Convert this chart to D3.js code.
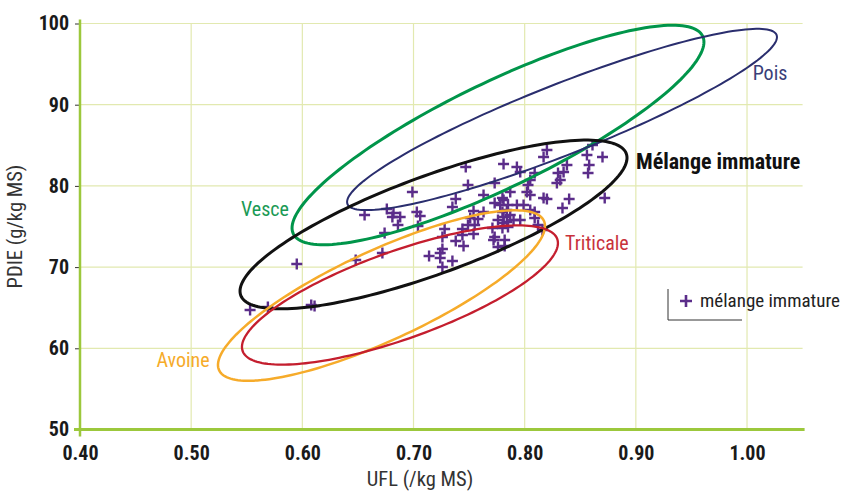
<!DOCTYPE html>
<html><head><meta charset="utf-8">
<script src="https://cdn.jsdelivr.net/npm/d3@7"></script>
<style>
body{margin:0;background:#fff;}
svg{display:block;}
text{font-family:"Liberation Sans Narrow","Roboto Condensed","Roboto",sans-serif;}
</style></head><body>
<svg id="c" width="847" height="491"></svg>
<script>
// ---- data ----
const xTicks = [0.40,0.50,0.60,0.70,0.80,0.90,1.00];
const yTicks = [50,60,70,80,90,100];

const ellipseNames = ["Vesce","Pois","Mélange immature","Avoine","Triticale"];
const ellipseCenterUFL  = [0.776, 0.8336, 0.718, 0.6712, 0.6878];
const ellipseCenterPDIE = [86.27, 88.18, 75.25, 66.50, 66.56];
const ellipseMajorUFL   = [0.1841, 0.1930, 0.1734, 0.1461, 0.1415];
const ellipseMajorPDIE  = [12.18, 10.41, 8.73, 9.20, 6.90];
const ellipseMinorUFL   = [0.02067, 0.0116, 0.01516, 0.01699, 0.01325];
const ellipseMinorPDIE  = [-5.855, -4.033, -5.64, -5.057, -5.09];

const pointsUFL = [0.553,0.569,0.608,0.611,0.595,0.648,0.672,0.674,0.656,0.676,0.699,0.682,0.681,0.688,0.686,0.703,0.706,0.704,0.714,
0.747,0.749,0.773,0.763,0.738,0.735,0.780,0.773,0.754,0.763,0.780,0.751,0.758,0.776,0.749,0.755,0.728,0.744,0.771,0.780,0.726,0.744,0.754,0.773,0.738,0.772,0.776,0.745,0.726,0.724,0.724,0.735,0.726,0.781,
0.820,0.817,0.861,0.856,0.870,0.858,0.857,0.838,0.835,0.830,0.832,0.829,0.793,0.796,0.809,0.805,0.803,0.787,0.802,0.805,0.817,0.820,0.840,0.834,0.872,0.781,0.778,
0.785,0.793,0.799,0.784,0.805,0.809,0.787,0.781,0.790,0.796,0.784,0.809,0.812,0.816,0.781,0.785,0.782,0.782];
const pointsPDIE = [64.72,65.09,65.33,65.21,70.38,70.87,71.74,74.20,76.42,77.16,79.25,76.66,76.17,76.17,75.18,76.79,76.29,75.06,71.37,
82.33,80.11,80.36,78.88,78.39,77.40,78.51,77.89,76.91,76.79,76.79,76.05,75.92,75.80,75.18,75.18,74.69,74.69,74.82,74.82,73.71,73.95,74.08,73.71,73.21,73.34,72.48,72.60,72.23,71.74,71.12,70.75,70.01,82.70,
84.42,83.56,85.04,83.81,83.56,82.57,81.59,82.57,81.71,81.59,80.73,80.36,82.33,81.71,81.59,80.73,80.11,79.25,79.25,78.88,78.51,78.39,78.39,77.28,78.51,78.26,77.65,
77.65,77.65,77.65,77.03,77.03,76.79,76.42,76.17,75.80,75.80,75.55,76.05,75.18,74.57,75.43,74.94,72.60,73.34];

// ---- styles ----
const ellipseColors = ["#00954a","#2a2e6e","#111111","#f6ab2a","#c41e2e"];
const ellipseWidths = [3,2,3,2.5,2.3];
const labelStyle = [
  {x:0.5664, y:77.0, anchor:"middle", weight:"normal", size:20},
  {x:1.0207, y:93.7, anchor:"middle", weight:"normal", size:20},
  {x:0.9001, y:82.85, anchor:"start", weight:"bold", size:22},
  {x:0.4927, y:58.3, anchor:"middle", weight:"normal", size:20},
  {x:0.865, y:72.72, anchor:"middle", weight:"normal", size:20}
];
const labelColors = ["#1a9a55","#3a3e78","#111111","#f6ab2a","#c8323c"];

const svg = d3.select("#c");
const x = d3.scaleLinear().domain([0.40,1.05]).range([80,802.6]);
const y = d3.scaleLinear().domain([50,100]).range([429.5,23.5]);
const FONT = '"Liberation Sans Narrow","Roboto Condensed",Roboto,sans-serif';

// grid
const gridColor = "#e2e9b0";
svg.append("g").selectAll("line").data(xTicks.slice(1)).join("line")
  .attr("x1",d=>x(d)).attr("x2",d=>x(d)).attr("y1",y(100)).attr("y2",y(50))
  .attr("stroke",gridColor).attr("stroke-width",1.2);
svg.append("g").selectAll("line").data(yTicks.slice(1)).join("line")
  .attr("x1",x(0.40)).attr("x2",x(1.05)).attr("y1",d=>y(d)).attr("y2",d=>y(d))
  .attr("stroke",gridColor).attr("stroke-width",1.2);

// axes
const axisColor = "#9cc83c";
const xAxis = svg.append("g").attr("transform",`translate(0,${y(50)})`)
  .call(d3.axisBottom(x).tickValues(xTicks).tickFormat(d3.format(".2f")).tickSize(0).tickPadding(16));
xAxis.select(".domain").remove();
xAxis.selectAll("text").attr("font-size",20).attr("font-weight","bold").attr("fill","#1a1a1a")
  .style("font-family",FONT);
const yAxis = svg.append("g").attr("transform",`translate(${x(0.40)},0)`)
  .call(d3.axisLeft(y).tickValues(yTicks).tickSize(5).tickPadding(6));
yAxis.select(".domain").remove();
yAxis.selectAll("line").attr("stroke","#333").attr("stroke-width",1);
yAxis.selectAll("text").attr("font-size",20).attr("font-weight","bold").attr("fill","#1a1a1a")
  .style("font-family",FONT);

svg.append("line").attr("x1",x(0.40)).attr("x2",x(0.40)).attr("y1",y(100)-4).attr("y2",y(50)+7)
  .attr("stroke",axisColor).attr("stroke-width",2.5);
svg.append("line").attr("x1",x(0.40)-6).attr("x2",x(1.05)+2).attr("y1",y(50)).attr("y2",y(50))
  .attr("stroke",axisColor).attr("stroke-width",3);

// axis titles
svg.append("text").attr("x",420).attr("y",481).attr("text-anchor","middle").attr("dominant-baseline","middle")
  .attr("font-size",20.5).attr("fill","#333").text("UFL (/kg MS)");
svg.append("text").attr("transform",`translate(17,${y(75)}) rotate(-90)`).attr("text-anchor","middle")
  .attr("dominant-baseline","middle").attr("font-size",20.5).attr("fill","#333").text("PDIE (g/kg MS)");

// points
const pts = pointsUFL.map((u,i)=>[u,pointsPDIE[i]]);
const plus = svg.append("g");
const s = 5.5;
pts.forEach(p=>{
  const cx = x(p[0]), cy = y(p[1]);
  plus.append("path").attr("d",`M${cx-s},${cy}H${cx+s}M${cx},${cy-s}V${cy+s}`)
    .attr("stroke","#5b2d8a").attr("stroke-width",2.4).attr("fill","none");
});

// ellipses
const line = d3.line().x(d=>x(d[0])).y(d=>y(d[1])).curve(d3.curveLinearClosed);
const N = 180;
ellipseNames.forEach((name,i)=>{
  const ptsE = d3.range(N).map(k=>{
    const t = 2*Math.PI*k/N;
    return [ellipseCenterUFL[i] + Math.cos(t)*ellipseMajorUFL[i] + Math.sin(t)*ellipseMinorUFL[i],
            ellipseCenterPDIE[i] + Math.cos(t)*ellipseMajorPDIE[i] + Math.sin(t)*ellipseMinorPDIE[i]];
  });
  svg.append("path").attr("d",line(ptsE)).attr("fill","none")
    .attr("stroke",ellipseColors[i]).attr("stroke-width",ellipseWidths[i]);
  const ls = labelStyle[i];
  svg.append("text").attr("x",x(ls.x)).attr("y",y(ls.y)).attr("text-anchor",ls.anchor)
    .attr("dominant-baseline","middle").attr("font-size",ls.size).attr("font-weight",ls.weight)
    .attr("fill",labelColors[i]).text(name);
});

// legend
const lg = svg.append("g");
lg.append("path").attr("d","M668,289V320H742").attr("fill","none").attr("stroke","#333").attr("stroke-width",1);
lg.append("path").attr("d","M680,301H692M686,295V307").attr("stroke","#5b2d8a").attr("stroke-width",2.6);
lg.append("text").attr("x",700).attr("y",302).attr("dominant-baseline","middle")
  .attr("font-size",19).attr("fill","#222").text("mélange immature");
</script>
</body></html>
